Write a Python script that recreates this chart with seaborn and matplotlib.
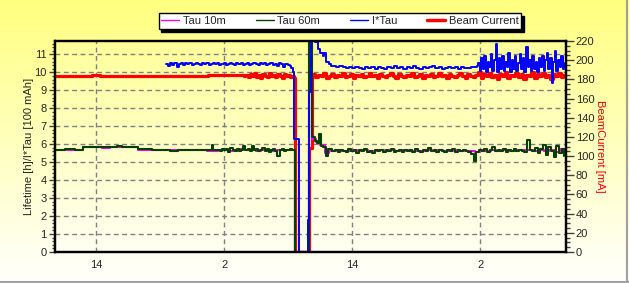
import numpy as np
import pandas as pd
import matplotlib
matplotlib.use("Agg")
import matplotlib.pyplot as plt
from matplotlib.lines import Line2D
from matplotlib.ticker import MultipleLocator
import seaborn as sns

sns.set_style("white")
plt.rcParams['font.family'] = ['Liberation Sans', 'DejaVu Sans']

# ---------------- data (time in hours, left axis units / mA) ----------------
# Beam current [mA]
red_t1 = [10.15, 13.6, 14.4, 23.9, 24.5, 27.9]
red_v1 = [184, 185, 184, 184, 185, 184]
redA_start, redA_step = 28.0, 0.2
redA = [185, 182, 186, 183, 187, 182, 185, 181, 186, 184, 182, 187, 183, 185, 182,
        186, 184, 181, 186, 183, 185, 182, 184]
red_ev_t = [32.55, 32.68, 33.95, 34.2]
red_ev_v = [181, 0, 108, 184]
redB_start, redB_step = 34.3, 0.25
redB = [186, 182, 185, 183, 187, 181, 184, 186, 182, 185,
        183, 187, 182, 184, 186, 181, 185, 183, 186, 182,
        184, 187, 183, 185, 181, 186, 184, 182, 185, 187,
        183, 181, 186, 184, 182, 185, 183, 187, 182, 184,
        186, 181, 185, 183, 186, 182, 184, 187, 183, 185,
        181, 186, 184, 182, 185, 187, 183, 181, 186, 184,
        182, 185, 188, 181, 186, 183, 187, 182, 185, 180,
        186, 184, 188, 181, 185, 183, 187, 182, 186, 180,
        185, 183, 188, 181, 186, 184, 187, 182, 185, 180,
        186, 183, 187, 182, 185, 184]

# I*Tau [100 mAh]
blueA_start, blueA_step = 20.55, 0.2
blueA = [10.45, 10.35, 10.5, 10.4, 10.55, 10.3, 10.45, 10.5, 10.4, 10.55,
         10.45, 10.5, 10.4, 10.45, 10.55, 10.45, 10.4, 10.5, 10.45, 10.5,
         10.4, 10.45, 10.5, 10.45, 10.55, 10.4, 10.45, 10.5, 10.4, 10.45,
         10.5, 10.45, 10.4, 10.5, 10.45, 10.55, 10.4, 10.45, 10.5, 10.4,
         10.45, 10.5, 10.45, 10.4, 10.55, 10.45, 10.5, 10.4, 10.45, 10.5,
         10.4, 10.45, 10.35, 10.5, 10.45, 10.3, 10.45, 10.4, 10.35]
blue_ev_t = [32.3, 32.45, 32.6, 33.0, 33.85, 33.95, 34.1, 34.5, 34.8, 35.0, 35.25,
             35.4, 35.55, 35.8, 36.05]
blue_ev_v = [10.25, 10.05, 6.3, 0.0, 1.8, 8.9, 12.5, 11.7, 11.3, 11.1, 10.9,
             11.1, 10.6, 10.45, 10.35]
blueB_start, blueB_step = 36.2, 0.3
blueB = [10.35, 10.3, 10.35, 10.3, 10.25, 10.3, 10.22, 10.3, 10.25, 10.2,
         10.3, 10.22, 10.28, 10.2, 10.32, 10.25, 10.2, 10.3, 10.22, 10.35,
         10.25, 10.3, 10.2, 10.28, 10.22, 10.35, 10.25, 10.2, 10.3, 10.22,
         10.28, 10.35, 10.22, 10.3, 10.2, 10.25, 10.32, 10.22, 10.28, 10.2,
         10.3, 10.25, 10.22, 10.3, 10.28, 10.35]
blueC_start, blueC_step = 49.8, 0.15
blueC = [10.5, 10.1, 10.8, 10.2, 10.9, 10.0, 10.6, 10.3, 11.0, 10.1,
         10.7, 11.6, 10.0, 10.8, 10.2, 10.9, 10.1, 10.6, 10.3, 11.1,
         10.0, 10.7, 10.2, 10.9, 10.1, 10.5, 11.0, 10.2, 10.8, 10.0,
         11.4, 10.3, 10.7, 10.1, 10.9, 10.2, 10.6, 10.0, 10.8, 10.3,
         10.9, 10.1, 10.7, 11.1, 10.2, 10.8, 9.4, 10.6, 11.2, 10.1,
         10.7, 10.3, 10.9, 10.2, 10.5]

# Tau 60m [h]
green_t1 = [10.15, 11.1, 12.0, 12.8, 16.0, 16.45, 17.95, 19.25, 20.95, 21.7, 23.5,
            24.4, 24.9, 25.0]
green_v1 = [5.70, 5.74, 5.70, 5.83, 5.88, 5.83, 5.74, 5.68, 5.62, 5.70, 5.66,
            5.70, 5.97, 5.70]
greenA_start, greenA_step = 25.4, 0.2
greenA = [5.70, 5.62, 5.76, 5.66, 5.72, 5.58, 5.78, 5.68, 5.64, 5.74,
          5.60, 5.70, 5.92, 5.66, 5.72, 5.62, 5.90, 5.68, 5.74, 5.60,
          5.70, 5.78, 5.64, 5.72, 5.58, 5.68, 5.76, 5.62, 5.36, 5.70,
          5.74, 5.64, 5.70, 5.66, 5.72, 5.70]
green_ev_t = [32.55, 32.68, 33.95, 34.24, 34.5, 34.75, 34.9, 35.05, 35.3, 35.55, 35.7]
green_ev_v = [5.70, 0.0, 14.0, 6.40, 6.20, 6.05, 6.55, 5.90, 5.85, 5.35, 5.75]
greenB_start, greenB_step = 35.9, 0.25
greenB = [5.72, 5.60, 5.68, 5.55, 5.70, 5.62, 5.58, 5.74, 5.60, 5.66,
          5.54, 5.68, 5.62, 5.72, 5.58, 5.64, 5.52, 5.68, 5.60, 5.70,
          5.56, 5.66, 5.62, 5.74, 5.58, 5.64, 5.68, 5.55, 5.70, 5.60,
          5.66, 5.58, 5.72, 5.62, 5.56, 5.68, 5.64, 5.78, 5.60, 5.66,
          5.58, 5.70, 5.62, 5.56, 5.68, 5.64, 5.72, 5.58, 5.66, 5.60,
          5.70, 5.62, 5.58, 5.44, 5.04, 5.55, 5.68, 5.62, 5.72, 5.58,
          5.66, 5.84, 5.60, 5.70, 5.62, 5.74, 5.58, 5.66, 5.62, 5.72,
          5.60, 5.68, 5.64, 5.58, 6.24, 5.66, 5.62, 5.80, 5.52, 5.74,
          5.96, 5.40, 5.86, 5.60, 5.30, 5.92, 5.50, 5.76, 5.36]

# Tau 10m [h]
mag_t1 = [10.15, 12.8, 13.5, 14.6, 15.3, 17.9, 19.3, 21.7, 23.5, 24.4, 25.4]
mag_v1 = [5.70, 5.87, 5.83, 5.79, 5.83, 5.68, 5.68, 5.70, 5.66, 5.64, 5.70]
magA_start, magA_step = 25.5, 0.5
magA = [5.66, 5.70, 5.64, 5.68, 5.72, 5.66, 5.68, 5.64, 5.70, 5.66, 5.64, 5.68, 5.66, 5.68]
mag_ev_t = [32.55, 32.68, 33.95, 34.24, 34.6, 35.0, 35.5, 35.8]
mag_ev_v = [5.70, 0.0, 14.0, 6.30, 6.15, 5.95, 5.50, 5.66]
magB_start, magB_step = 36.0, 0.5
magB = [5.64, 5.66, 5.62, 5.64, 5.68, 5.62, 5.66, 5.60, 5.64, 5.68,
        5.62, 5.66, 5.62, 5.64, 5.70, 5.62, 5.64, 5.62, 5.68, 5.64,
        5.66, 5.60, 5.64, 5.68, 5.62, 5.64, 5.62, 5.56, 5.64, 5.62,
        5.66, 5.62, 5.70, 5.64, 5.62, 5.66, 5.68, 5.66, 5.64, 5.68,
        5.62, 5.70, 5.58, 5.72, 5.62]

xtick_pos = [14, 26, 38, 50]
xtick_labels = ["14", "2", "14", "2"]
x_range = (10.15, 58.05)
left_range = (0, 11.75)
right_range = (0, 220)

series_labels = ["Tau 10m", "Tau 60m", "I*Tau", "Beam Current"]
series_colors = ["#FF00FF", "#004000", "#0000FF", "#FF0000"]


def assemble(parts):
    ts, vs = [], []
    for kind, a, b, c in parts:
        if kind == "pts":
            ts += list(a); vs += list(b)
        else:
            ts += list(a + b * np.arange(len(c))); vs += list(c)
    return pd.DataFrame({"t": ts, "v": vs})


red_df = assemble([("pts", red_t1, red_v1, None), ("grid", redA_start, redA_step, redA),
                   ("pts", red_ev_t, red_ev_v, None), ("grid", redB_start, redB_step, redB)])
blue_df = assemble([("grid", blueA_start, blueA_step, blueA), ("pts", blue_ev_t, blue_ev_v, None),
                    ("grid", blueB_start, blueB_step, blueB), ("grid", blueC_start, blueC_step, blueC)])
green_df = assemble([("pts", green_t1, green_v1, None), ("grid", greenA_start, greenA_step, greenA),
                     ("pts", green_ev_t, green_ev_v, None), ("grid", greenB_start, greenB_step, greenB)])
mag_df = assemble([("pts", mag_t1, mag_v1, None), ("grid", magA_start, magA_step, magA),
                   ("pts", mag_ev_t, mag_ev_v, None), ("grid", magB_start, magB_step, magB)])

# ---------------- figure ----------------
W, H = 629, 283
fig = plt.figure(figsize=(W / 100, H / 100), dpi=100)

# figure background gradient
bgfig = fig.add_axes([0, 0, 1, 1], zorder=-10)
grad = np.linspace(0, 1, 256).reshape(-1, 1)
top = np.array([1.0, 1.0, 0.50]); bot = np.array([1.0, 1.0, 0.99])
img = top[None, None, :] * (1 - grad[:, :, None]) + bot[None, None, :] * grad[:, :, None]
bgfig.imshow(img, aspect="auto", extent=(0, 1, 0, 1), origin="upper")
bgfig.set_xlim(0, 1); bgfig.set_ylim(0, 1)
bgfig.axis("off")
# grey 3D frame on right/bottom
bgfig.plot([0, 1], [0.004, 0.004], color="#A0A0A0", lw=1.5, transform=bgfig.transAxes)
bgfig.plot([0.997, 0.997], [0, 1], color="#A0A0A0", lw=1.5, transform=bgfig.transAxes)

rect = [55 / W, 1 - 252 / H, 511 / W, 211 / H]

# plot-area gradient + grid
bg = fig.add_axes(rect, zorder=0)
top2 = np.array([1.0, 1.0, 0.60]); bot2 = np.array([1.0, 1.0, 0.95])
img2 = top2[None, None, :] * (1 - grad[:, :, None]) + bot2[None, None, :] * grad[:, :, None]
bg.imshow(img2, aspect="auto", extent=(x_range[0], x_range[1], left_range[0], left_range[1]),
          origin="upper", zorder=0)
bg.set_xlim(*x_range); bg.set_ylim(*left_range)
bg.set_xticks(xtick_pos); bg.set_yticks(range(1, 12))
bg.grid(True, color="#808080", linestyle=(0, (3.5, 2.5)), linewidth=1.0)
bg.tick_params(length=0, labelleft=False, labelbottom=False)
for s in bg.spines.values():
    s.set_visible(False)

ax = fig.add_axes(rect, zorder=2)
ax2 = ax.twinx()
ax2.set_zorder(1)
ax.patch.set_visible(False)
ax2.patch.set_visible(False)

kw = dict(drawstyle="steps-post", estimator=None, sort=False, legend=False)
sns.lineplot(data=red_df, x="t", y="v", ax=ax2, color=series_colors[3], linewidth=2.3, **kw)
sns.lineplot(data=mag_df, x="t", y="v", ax=ax, color=series_colors[0], linewidth=1.5, **kw)
sns.lineplot(data=green_df, x="t", y="v", ax=ax, color=series_colors[1], linewidth=1.5, **kw)
sns.lineplot(data=blue_df, x="t", y="v", ax=ax, color=series_colors[2], linewidth=1.4, **kw)

ax.set_xlim(*x_range); ax.set_ylim(*left_range)
ax2.set_ylim(*right_range)

ax.set_xticks(xtick_pos, xtick_labels)
ax.xaxis.set_minor_locator(MultipleLocator(2))
ax.set_yticks(range(0, 12))
ax.yaxis.set_minor_locator(MultipleLocator(0.2))
ax2.set_yticks(range(0, 221, 20))
ax2.yaxis.set_minor_locator(MultipleLocator(5))

ax.tick_params(axis="both", which="major", direction="out", length=4, width=1,
               labelsize=8, color="#404040", pad=2)
ax.tick_params(axis="both", which="minor", direction="out", length=2, width=1, color="#404040")
ax2.tick_params(axis="y", which="major", direction="out", length=6, width=1, labelsize=8,
                color="#404040", pad=1)
ax2.tick_params(axis="y", which="minor", direction="out", length=3, width=1, color="#404040")

ax.set_xlabel("")
ax.set_ylabel("Lifetime [h]/I*Tau [100 mAh]", fontsize=8, labelpad=0)
ax2.set_ylabel("BeamCurrent [mA]", fontsize=8, color="#FF0000", rotation=270, labelpad=8)

for a in (ax, ax2):
    for s in a.spines.values():
        s.set_color("black")
        s.set_linewidth(1.6)
        s.set_visible(True)

handles = [Line2D([], [], color=series_colors[0], lw=1),
           Line2D([], [], color=series_colors[1], lw=1),
           Line2D([], [], color=series_colors[2], lw=1),
           Line2D([], [], color=series_colors[3], lw=2.5)]
leg = fig.legend(handles, series_labels, loc="center", bbox_to_anchor=(340 / W, 1 - 21 / H),
                 ncol=4, frameon=True, fancybox=False, shadow={"color": "black", "alpha": 1},
                 fontsize=8, handlelength=1.6, handletextpad=0.35, columnspacing=2.7,
                 borderpad=0.25, borderaxespad=0)
leg.get_frame().set_edgecolor("black")
leg.get_frame().set_linewidth(1.0)
leg.get_frame().set_facecolor("white")
leg.get_frame().set_alpha(1)

fig.savefig("out.png", dpi=100)
